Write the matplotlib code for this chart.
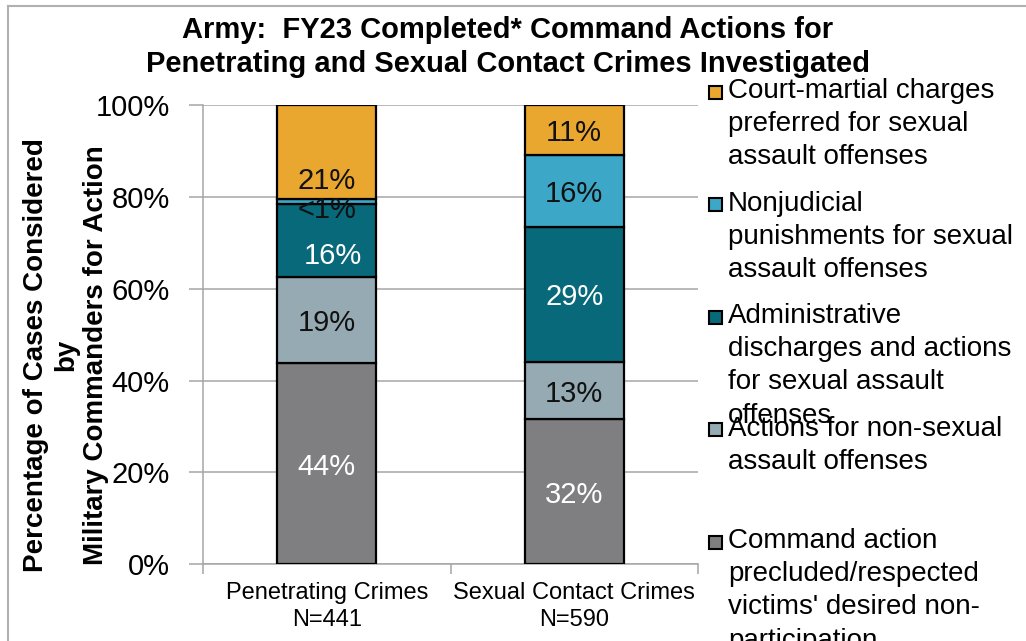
import matplotlib
matplotlib.use("Agg")
import matplotlib.pyplot as plt
from matplotlib.patches import Rectangle
from matplotlib.lines import Line2D
import numpy as np

plt.rcParams['font.family'] = ['Liberation Sans', 'DejaVu Sans']

# data (bottom segment first)
categories = ["Penetrating Crimes\nN=441", "Sexual Contact Crimes\nN=590"]
series = [
    "Command action\nprecluded/respected\nvictims' desired non-\nparticipation",
    "Actions for non-sexual\nassault offenses",
    "Administrative\ndischarges and actions\nfor sexual assault\noffenses",
    "Nonjudicial\npunishments for sexual\nassault offenses",
    "Court-martial charges\npreferred for sexual\nassault offenses",
]
penetrating = [43.9, 18.7, 15.9, 1.0, 20.5]
sexual_contact = [31.6, 12.5, 29.4, 15.7, 10.8]
pen_labels = ["44%", "19%", "16%", "<1%", "21%"]
sex_labels = ["32%", "13%", "29%", "16%", "11%"]
yticks = [0, 20, 40, 60, 80, 100]

colors = ["#7f7f82", "#95aab2", "#07697a", "#3da7c8", "#e9a72f"]
label_colors = ["white", "#111111", "white", "#111111", "#111111"]
# label nudges in pixels (right, down) as placed in the original
pen_nudge = [(0, 0), (0, 0), (6, 13), (0, 5), (0, 26)]
sex_nudge = [(0, 0)] * 5

W, H = 1026, 641
fig = plt.figure(figsize=(W / 100, H / 100), dpi=100)
ax = fig.add_axes([203 / W, 1 - 564.3 / H, 495 / W, 459 / H])

x = np.arange(len(categories))
values = np.array([penetrating, sexual_contact]).T
bottom = np.zeros(len(categories))
for i in range(len(series)):
    ax.bar(x, values[i], 0.40, bottom=bottom, color=colors[i],
           edgecolor="black", linewidth=1.6, zorder=3)
    for j, (labs, nud) in enumerate([(pen_labels, pen_nudge), (sex_labels, sex_nudge)]):
        ax.annotate(labs[i], (x[j], bottom[j] + values[i][j] / 2),
                    xytext=(nud[i][0], -nud[i][1] - 3), textcoords="offset pixels",
                    ha="center", va="center", fontsize=21,
                    color=label_colors[i], zorder=5)
    bottom += values[i]

ax.set_xlim(-0.5, 1.5)
ax.set_ylim(0, 100)
ax.set_yticks(yticks)
ax.set_yticklabels([f"{t}%" for t in yticks], fontsize=21)
ax.set_xticks(x)
ax.set_xticklabels(categories, fontsize=17, linespacing=1.28)
ax.set_xticks([-0.5, 0.5, 1.5], minor=True)
ax.tick_params(axis="x", which="major", length=0, pad=13)
ax.tick_params(axis="x", which="minor", length=7, width=1.1, color="#a6a6a6", direction="out")
ax.tick_params(axis="y", length=10, width=1.1, color="#a6a6a6", pad=14)
ax.yaxis.grid(True, color="#a6a6a6", linewidth=1.1, zorder=0)
ax.set_axisbelow(True)
for s in ["top", "right"]:
    ax.spines[s].set_visible(False)
for s in ["left", "bottom"]:
    ax.spines[s].set_color("#a6a6a6")
    ax.spines[s].set_linewidth(1.1)

# title and y label
fig.text(508 / W, 1 - 47 / H,
         "Army:  FY23 Completed* Command Actions for\nPenetrating and Sexual Contact Crimes Investigated",
         ha="center", va="center", fontsize=21, fontweight="bold", linespacing=1.3)
fig.text(66 / W, 1 - 355 / H,
         "Percentage of Cases Considered\nby\nMilitary Commanders for Action",
         ha="center", va="center", rotation=90, fontsize=20, fontweight="bold",
         linespacing=1.2, multialignment="center")

# legend, drawn top-down as in the original
for k, i in enumerate(range(len(series) - 1, -1, -1)):
    yc = 92 + k * 112.5
    fig.add_artist(Rectangle((709 / W, 1 - (yc + 6.5) / H), 13 / W, 13 / H,
                             transform=fig.transFigure, facecolor=colors[i],
                             edgecolor="black", linewidth=1.5))
    fig.text(728 / W, 1 - (yc - 14) / H, series[i], ha="left", va="top",
             fontsize=20, linespacing=1.36)

# chart border
fig.add_artist(Line2D([8 / W, 1], [1 - 6 / H, 1 - 6 / H], transform=fig.transFigure,
                      color="#b0b0b0", linewidth=1.5))
fig.add_artist(Line2D([8 / W, 8 / W], [0, 1 - 6 / H], transform=fig.transFigure,
                      color="#b0b0b0", linewidth=1.5))

fig.savefig("out.png", dpi=100)
